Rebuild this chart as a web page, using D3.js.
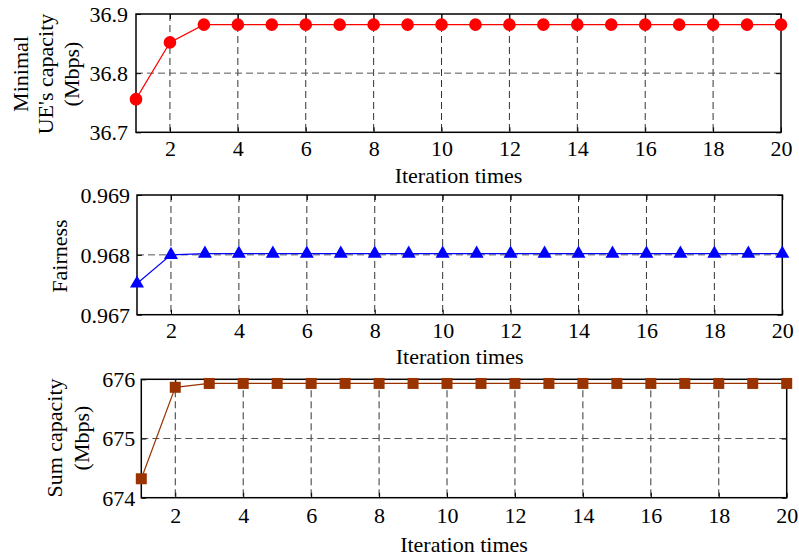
<!DOCTYPE html>
<html>
<head>
<meta charset="utf-8">
<script src="https://cdn.jsdelivr.net/npm/d3@7"></script>
<style>
  html, body { margin: 0; padding: 0; background: #fff; }
  svg { display: block; }
  text { font-family: "Liberation Serif", "Times New Roman", serif; fill: #000; }
</style>
</head>
<body>
<svg id="chart" width="799" height="559"></svg>
<script>
// ---- data ----
const iterations = [1,2,3,4,5,6,7,8,9,10,11,12,13,14,15,16,17,18,19,20];
const minCapacity = [36.756,36.852,36.882,36.882,36.882,36.882,36.882,36.882,36.882,36.882,
                     36.882,36.882,36.882,36.882,36.882,36.882,36.882,36.882,36.882,36.882];
const fairness = [0.96752,0.96800,0.96802,0.96802,0.96802,0.96802,0.96802,0.96802,0.96802,0.96802,
                  0.96802,0.96802,0.96802,0.96802,0.96802,0.96802,0.96802,0.96802,0.96802,0.96802];
const sumCapacity = [674.32,675.865,675.93,675.93,675.93,675.93,675.93,675.93,675.93,675.93,
                     675.93,675.93,675.93,675.93,675.93,675.93,675.93,675.93,675.93,675.93];
const xTicks = [2,4,6,8,10,12,14,16,18,20];
const yTicks1 = [36.7, 36.8, 36.9];
const yTicks2 = [0.967, 0.968, 0.969];
const yTicks3 = [674, 675, 676];
const xLabel = "Iteration times";
const yLabel1 = ["Minimal", "UE's capacity", "(Mbps)"];
const yLabel2 = ["Fairness"];
const yLabel3 = ["Sum capacity", "(Mbps)"];

// ---- layout ----
const svg = d3.select("#chart");
const FS = 22;

const panels = [
  { box: {l:136, r:781, t:14, b:132.3}, values: minCapacity, yTicks: yTicks1, yFmt: d3.format(".1f"),
    color: "#ff0000", marker: "circle", yLabel: yLabel1, labelX: [28, 53, 79], labelY: 74,
    tickBase: 24, titleBase: 51, yPad: 8 },
  { box: {l:137, r:782.3, t:195, b:314.7}, values: fairness, yTicks: yTicks2, yFmt: d3.format(".3f"),
    color: "#0000ff", marker: "triangle", yLabel: yLabel2, labelX: [67], labelY: 256,
    tickBase: 23, titleBase: 49, yPad: 7 },
  { box: {l:141.3, r:786.7, t:379.3, b:497.7}, values: sumCapacity, yTicks: yTicks3, yFmt: d3.format("d"),
    color: "#993300", marker: "square", yLabel: yLabel3, labelX: [62, 89], labelY: 438,
    tickBase: 25, titleBase: 54, yPad: 6 }
];

panels.forEach(p => {
  const B = p.box;
  const x = d3.scaleLinear().domain([1, 20]).range([B.l, B.r]);
  const y = d3.scaleLinear().domain([p.yTicks[0], p.yTicks[p.yTicks.length-1]]).range([B.b, B.t]);
  const g = svg.append("g");

  // grid
  g.append("g").selectAll("line.vg").data(xTicks.filter(d => d < 20)).join("line")
    .attr("x1", d => x(d)).attr("x2", d => x(d)).attr("y1", B.t).attr("y2", B.b)
    .attr("stroke", "#333").attr("stroke-width", 1).attr("stroke-dasharray", "7,4");
  g.append("g").selectAll("line.hg").data(p.yTicks.slice(1, -1)).join("line")
    .attr("x1", B.l).attr("x2", B.r).attr("y1", d => y(d)).attr("y2", d => y(d))
    .attr("stroke", "#555").attr("stroke-width", 1).attr("stroke-dasharray", "7,4");

  // axes (ticks inward)
  const xb = g.append("g").attr("transform", `translate(0,${B.b})`)
    .call(d3.axisBottom(x).tickValues(xTicks).tickSize(-5).tickFormat(d3.format("d")));
  xb.selectAll("text").attr("y", p.tickBase).attr("dy", 0).style("font-size", FS + "px");
  const xt = g.append("g").attr("transform", `translate(0,${B.t})`)
    .call(d3.axisTop(x).tickValues(xTicks).tickSize(-5).tickFormat(""));
  const yl = g.append("g").attr("transform", `translate(${B.l},0)`)
    .call(d3.axisLeft(y).tickValues(p.yTicks).tickSize(-5).tickPadding(p.yPad).tickFormat(p.yFmt));
  yl.selectAll("text").style("font-size", FS + "px").attr("dy", "0.34em");
  const yr = g.append("g").attr("transform", `translate(${B.r},0)`)
    .call(d3.axisRight(y).tickValues(p.yTicks).tickSize(-5).tickFormat(""));
  [xb, xt, yl, yr].forEach(a => {
    a.attr("font-family", null).attr("font-size", null);
    a.select(".domain").remove();
    a.selectAll(".tick line").attr("stroke", "#000").attr("stroke-width", 1);
  });

  // box
  g.append("rect").attr("x", B.l).attr("y", B.t).attr("width", B.r - B.l).attr("height", B.b - B.t)
    .attr("fill", "none").attr("stroke", "#000").attr("stroke-width", 1.5);

  // x label
  g.append("text").attr("x", (B.l + B.r) / 2).attr("y", B.b + p.titleBase)
    .attr("text-anchor", "middle").style("font-size", FS + "px").text(xLabel);

  // y label
  p.yLabel.forEach((t, i) => {
    g.append("text").attr("transform", `translate(${p.labelX[i]},${p.labelY}) rotate(-90)`)
      .attr("text-anchor", "middle").style("font-size", FS + "px").text(t);
  });

  // line
  const pts = iterations.map((it, i) => [it, p.values[i]]);
  g.append("path").datum(pts)
    .attr("d", d3.line().x(d => x(d[0])).y(d => y(d[1])))
    .attr("fill", "none").attr("stroke", p.color).attr("stroke-width", 1.2);

  // markers
  let sym;
  if (p.marker === "circle") sym = d3.symbol(d3.symbolCircle, Math.PI * 40);
  else if (p.marker === "triangle") sym = d3.symbol(d3.symbolTriangle, 85);
  else sym = d3.symbol(d3.symbolSquare, 121);
  g.append("g").selectAll("path").data(pts).join("path")
    .attr("transform", d => `translate(${x(d[0])},${y(d[1])})`)
    .attr("d", sym).attr("fill", p.color).attr("stroke", "none");
});
</script>
</body>
</html>
